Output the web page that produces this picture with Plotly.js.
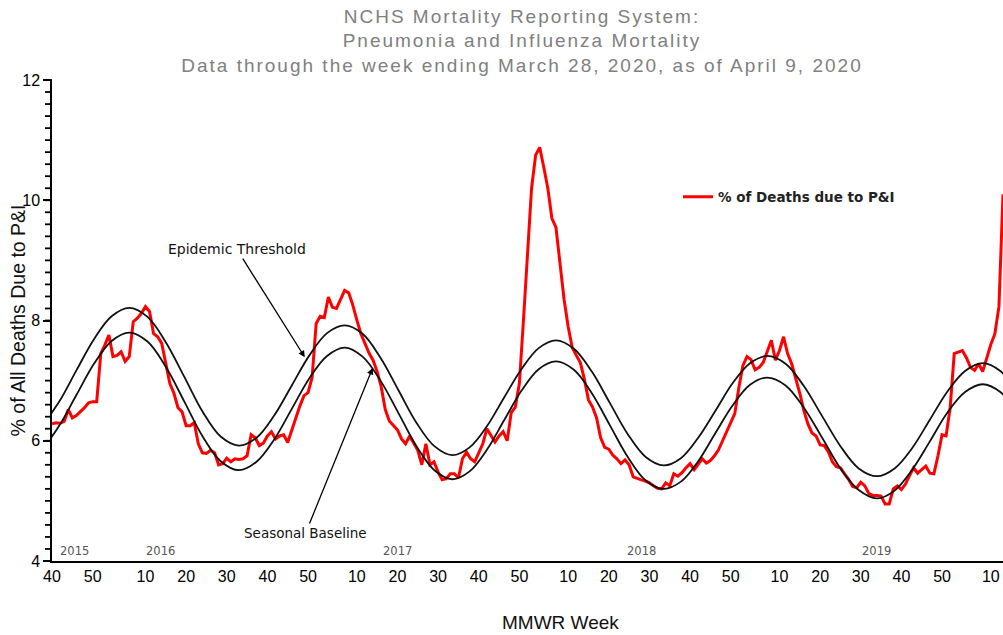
<!DOCTYPE html>
<html>
<head>
<meta charset="utf-8">
<script src="https://cdn.plot.ly/plotly-3.0.1.min.js"></script>
<style>
html,body{margin:0;padding:0;background:#fff;}
#chart{width:1003px;height:635px;}
</style>
</head>
<body>
<div id="chart"></div>
<script>
// % of deaths due to P&I, weekly, one array per season (starting MMWR week 40)
const season2015_16 = [6.28,6.30,6.29,6.32,6.52,6.38,6.42,6.48,6.55,6.63,6.65,6.65,7.45,7.59,7.76,7.40,7.42,7.48,7.32,7.40,
  7.98,8.04,8.12,8.23,8.15,7.78,7.73,7.62,7.28,6.95,6.79,6.55,6.48,6.25,6.25,6.30,5.95,5.80,5.79,5.84,
  5.80,5.60,5.62,5.71,5.65,5.70,5.69,5.70,5.75,6.10,6.05,5.92,5.96];
const season2016_17 = [6.08,6.15,6.03,6.08,6.10,5.97,6.18,6.40,6.58,6.75,6.80,7.05,7.95,8.07,8.05,8.39,8.22,8.20,8.35,8.50,
  8.46,8.26,8.01,7.78,7.62,7.46,7.34,7.15,6.90,6.52,6.33,6.25,6.18,6.03,5.95,6.08,5.95,5.84,5.60,5.95,
  5.60,5.65,5.48,5.35,5.37,5.45,5.45,5.38,5.70,5.81,5.70,5.65];
const season2017_18 = [5.80,5.95,6.20,6.09,5.98,6.08,6.15,6.00,6.47,6.56,6.95,8.00,9.20,10.20,10.75,10.88,10.55,10.20,9.70,9.55,
  8.95,8.35,7.90,7.55,7.42,7.30,7.02,6.68,6.56,6.38,6.05,5.89,5.86,5.76,5.70,5.62,5.68,5.60,5.40,5.37,
  5.35,5.33,5.30,5.25,5.21,5.20,5.30,5.25,5.45,5.41,5.47,5.55];
const season2018_19 = [5.62,5.52,5.62,5.70,5.63,5.67,5.75,5.85,6.00,6.15,6.32,6.45,6.88,7.25,7.40,7.35,7.18,7.22,7.30,7.48,
  7.67,7.34,7.50,7.73,7.45,7.28,7.05,6.79,6.50,6.28,6.13,6.08,5.93,5.92,5.82,5.65,5.57,5.55,5.45,5.36,
  5.24,5.22,5.31,5.25,5.12,5.09,5.09,5.08,4.95,4.95,5.20,5.25];
const season2019_20 = [5.19,5.28,5.42,5.55,5.46,5.52,5.58,5.46,5.45,5.75,6.10,6.08,6.55,7.45,7.48,7.50,7.38,7.22,7.17,7.28,
  7.15,7.38,7.60,7.78,8.23,10.10];

// Seasonal baseline and epidemic threshold (week offset from 2015 week 40)
const curveWeeks = [-7,-2.67,1.67,6,10.33,14.67,19,23.5,28,32.5,37,41.5,46,50.33,54.67,59,63.33,67.67,72,
  76.42,80.83,85.25,89.67,94.08,98.5,102.75,107,111.25,115.5,119.75,124,128.42,132.83,137.25,141.67,146.08,150.5,
  154.75,159,163.25,167.5,171.75,176,180.5,185,189.5,194,198.5,203,207.33,211.67,216,220.33,224.67,229,233.33,237.67];
const baseline = [5.72,5.86,6.24,6.76,7.28,7.66,7.80,7.65,7.23,6.66,6.08,5.66,5.51,5.65,6.02,6.53,7.04,7.41,7.55,
  7.40,7.00,6.46,5.91,5.51,5.36,5.49,5.85,6.34,6.83,7.19,7.32,7.18,6.79,6.26,5.73,5.34,5.20,
  5.32,5.66,6.13,6.59,6.93,7.05,6.92,6.55,6.05,5.54,5.18,5.04,5.17,5.52,5.99,6.47,6.81,6.94,6.81,6.44];
const threshold = [6.12,6.26,6.64,7.17,7.69,8.07,8.21,8.06,7.64,7.07,6.49,6.07,5.92,6.05,6.42,6.92,7.42,7.79,7.92,
  7.78,7.38,6.84,6.30,5.91,5.76,5.89,6.24,6.72,7.19,7.54,7.67,7.53,7.15,6.63,6.11,5.73,5.59,
  5.71,6.05,6.50,6.96,7.29,7.41,7.28,6.91,6.41,5.91,5.54,5.41,5.54,5.88,6.35,6.82,7.16,7.29,7.16,6.79];

// MMWR week tick labels and their week offsets
const tickWeeks = [0,10,23,33,43,53,63,75,85,95,105,115,127,137,147,157,167,179,189,199,209,219,231];
const tickLabels = ['40','50','10','20','30','40','50','10','20','30','40','50','10','20','30','40','50','10','20','30','40','50','10'];

// Y axis labelled values
const yLabelValues = [4, 6, 8, 10, 12];

// Year markers
const yearLabels = ['2015','2016','2017','2018','2019'];
const yearWeeks = [5.65,26.6,85.0,145.0,202.8];

const titleLines = ['NCHS Mortality Reporting System:', 'Pneumonia and Influenza Mortality',
  'Data through the week ending March 28, 2020, as of April 9, 2020'];

const piValues = [].concat(season2015_16, season2016_17, season2017_18, season2018_19, season2019_20);
const weekIndex = piValues.map((_, i) => i);

// y axis tick comb every 0.2 (axis decoration), expressed in paper fractions of the 4..12 range
const Y_MIN = 4, Y_MAX = 12;
const tickShapes = [];
for (let k = 0; k <= 40; k++) {
  const frac = k / 40;
  tickShapes.push({
    type: 'line', xref: 'paper', yref: 'paper', x0: -7 / 951, x1: 0, y0: frac, y1: frac,
    line: {color: '#000', width: 1.8}, layer: 'above'
  });
}

const traces = [
  {x: weekIndex, y: piValues, type: 'scatter', mode: 'lines', name: '% of Deaths due to P&I',
   line: {color: '#ff0000', width: 3}, hoverinfo: 'y'},
  {x: curveWeeks, y: threshold, type: 'scatter', mode: 'lines', name: 'Epidemic Threshold', showlegend: false,
   line: {color: '#111111', width: 1.8, shape: 'spline', smoothing: 1}, hoverinfo: 'skip'},
  {x: curveWeeks, y: baseline, type: 'scatter', mode: 'lines', name: 'Seasonal Baseline', showlegend: false,
   line: {color: '#111111', width: 1.8, shape: 'spline', smoothing: 1}, hoverinfo: 'skip'}
];

const annotations = [];
yearLabels.forEach((t, i) => annotations.push({
  text: t, xref: 'x', yref: 'y', x: yearWeeks[i], y: 4.166, xanchor: 'center', yanchor: 'middle',
  showarrow: false, font: {family: 'DejaVu Sans, sans-serif', size: 11.5, color: '#555555'}
}));
annotations.push({
  text: 'Epidemic Threshold', xref: 'x', yref: 'y', x: 62.2, y: 7.39, axref: 'pixel', ayref: 'pixel',
  ax: -68, ay: -108, showarrow: true, arrowhead: 2, arrowsize: 1, arrowwidth: 1.3, arrowcolor: '#000',
  font: {family: 'DejaVu Sans, sans-serif', size: 14, color: '#111'}
});
annotations.push({
  text: 'Seasonal Baseline', xref: 'x', yref: 'y', x: 78.9, y: 7.21, axref: 'pixel', ayref: 'pixel',
  ax: -67, ay: 165, showarrow: true, arrowhead: 2, arrowsize: 1, arrowwidth: 1.3, arrowcolor: '#000',
  font: {family: 'DejaVu Sans, sans-serif', size: 13.5, color: '#111'}
});
// x axis title
annotations.push({
  text: 'MMWR Week', xref: 'paper', yref: 'paper', x: 0.535, y: -0.1538, xanchor: 'center', yanchor: 'bottom',
  showarrow: false, font: {family: 'Liberation Sans, Arial, sans-serif', size: 19, color: '#111'}
});
// y axis title
annotations.push({
  text: '% of All Deaths Due to P&I', xref: 'paper', yref: 'paper', x: -0.0358, y: 0.5,
  xanchor: 'center', yanchor: 'middle', textangle: -90,
  showarrow: false, font: {family: 'Liberation Sans, Arial, sans-serif', size: 19.5, color: '#111'}
});

const titleText = titleLines.map(t => '<span style="letter-spacing:2px">' + t + '</span>').join('<br>');

const layout = {
  width: 1003, height: 635,
  margin: {l: 52, r: 0, t: 80, b: 74, pad: 0},
  paper_bgcolor: '#ffffff', plot_bgcolor: '#ffffff',
  font: {family: 'Liberation Sans, Arial, sans-serif', color: '#000'},
  title: {
    text: titleText, xref: 'container', yref: 'container', x: 0.5204, xanchor: 'center',
    y: 0.9642, yanchor: 'top',
    font: {family: 'Liberation Sans, Arial, sans-serif', size: 19, color: '#808080'}
  },
  showlegend: true,
  xaxis: {
    range: [0, 234], tickmode: 'array', tickvals: tickWeeks, ticktext: tickLabels,
    showgrid: false, zeroline: false, showline: true, linecolor: '#000', linewidth: 2,
    ticks: '', tickfont: {size: 16, color: '#000'}, fixedrange: true
  },
  yaxis: {
    range: [Y_MIN, Y_MAX], tickmode: 'array', tickvals: yLabelValues,
    showgrid: false, zeroline: false,
    showline: true, linecolor: '#000', linewidth: 1.5,
    ticks: 'outside', ticklen: 7, tickwidth: 1.8, tickcolor: '#000',
    tickfont: {size: 16, color: '#000'},
    fixedrange: true
  },
  legend: {
    x: 0.6583, y: 0.7568, xanchor: 'left', yanchor: 'middle', bgcolor: 'rgba(0,0,0,0)',
    font: {family: 'DejaVu Sans, sans-serif', size: 13.5, color: '#222', weight: 'bold'}
  },
  shapes: tickShapes,
  annotations: annotations
};

Plotly.newPlot('chart', traces, layout, {displayModeBar: false, responsive: false});
</script>
</body>
</html>
